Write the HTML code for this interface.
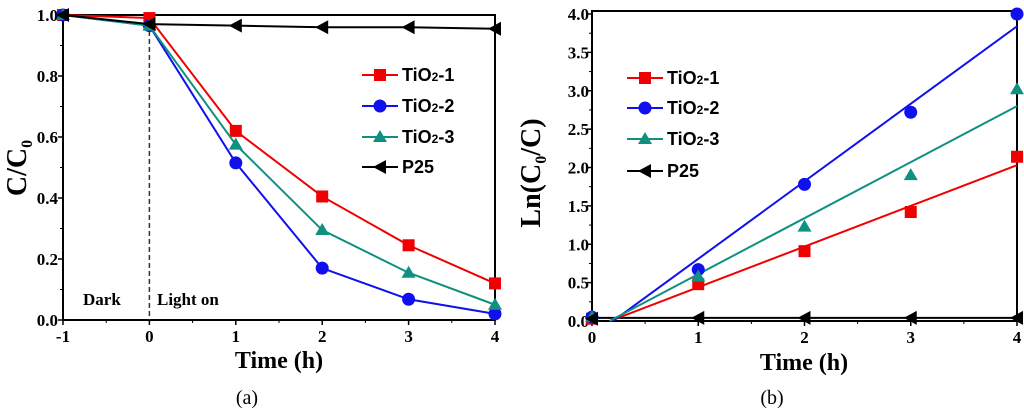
<!DOCTYPE html>
<html><head><meta charset="utf-8"><style>
html,body{margin:0;padding:0;background:#fff}
svg{display:block}
.tk{font-family:"Liberation Serif",serif;font-weight:bold;font-size:17px}
.tt{font-family:"Liberation Serif",serif;font-weight:bold;font-size:24px}
.yt{font-family:"Liberation Serif",serif;font-weight:bold;font-size:28px}
.lg{font-family:"Liberation Sans",sans-serif;font-weight:bold;font-size:18px}
.cap{font-family:"Liberation Serif",serif;font-size:20px}
</style></head><body>
<svg id="c" width="1024" height="412" viewBox="0 0 1024 412" xmlns="http://www.w3.org/2000/svg"></svg>
<script>
// Panel (a) data
const timesA = [-1, 0, 1, 2, 3, 4];
const tio1A = [1.0, 0.99, 0.62, 0.405, 0.245, 0.12];
const tio2A = [1.0, 0.965, 0.515, 0.17, 0.068, 0.02];
const tio3A = [1.0, 0.965, 0.575, 0.295, 0.155, 0.05];
const p25A = [1.0, 0.97, 0.965, 0.96, 0.96, 0.955];
const xTicksA = [-1, 0, 1, 2, 3, 4];
const yTicksA = [0.0, 0.2, 0.4, 0.6, 0.8, 1.0];
// Panel (b) data
const timesB = [0, 1, 2, 3, 4];
const tio1B = [0.03, 0.48, 0.91, 1.42, 2.14];
const tio2B = [0.05, 0.67, 1.78, 2.72, 4.0];
const tio3B = [0.05, 0.58, 1.23, 1.9, 3.02];
const p25B = [0.03, 0.04, 0.04, 0.04, 0.04];
const fitSlopes = [0.53, 1.01, 0.73];
const fitIntercepts = [-0.09, -0.20, -0.12];
const xTicksB = [0, 1, 2, 3, 4];
const yTicksB = [0.0, 0.5, 1.0, 1.5, 2.0, 2.5, 3.0, 3.5, 4.0];
const names = ["TiO2-1", "TiO2-2", "TiO2-3", "P25"];

const NS = "http://www.w3.org/2000/svg";
const svg = document.getElementById("c");
function mk(tag, attrs, parent, text) {
  const e = document.createElementNS(NS, tag);
  for (const k in attrs) e.setAttribute(k, attrs[k]);
  if (text !== undefined) e.textContent = text;
  (parent || svg).appendChild(e);
  return e;
}
const colors = ["#f00000", "#1010ee", "#109080", "#000"];

function marker(g, type, x, y, c) {
  let m;
  if (type === 0) m = mk("rect", {x: x - 6, y: y - 6, width: 12, height: 12, fill: c}, g);
  else if (type === 1) m = mk("circle", {cx: x, cy: y, r: 6.5, fill: c}, g);
  else if (type === 2) m = mk("polygon", {points: `${x},${y - 7} ${x - 7},${y + 5} ${x + 7},${y + 5}`, fill: c}, g);
  else m = mk("polygon", {points: `${x - 7},${y} ${x + 6},${y - 7} ${x + 6},${y + 7}`, fill: c}, g);
  
  
}

function legend(x0, ys, parent) {
  const g = mk("g", {}, parent);
  
  
  for (let i = 0; i < 4; i++) {
    const e = mk("g", {}, g);
    
    
    mk("line", {x1: x0, y1: ys[i], x2: x0 + 36, y2: ys[i], stroke: colors[i], "stroke-width": 2}, e);
    marker(e, i, x0 + 18, ys[i], colors[i]);
    const t = mk("text", {x: x0 + 40, y: ys[i] + 6, class: "lg"}, e);
    if (i < 3) {
      t.appendChild(document.createTextNode("TiO"));
      mk("tspan", {"font-size": "12px"}, t, "2");
      t.appendChild(document.createTextNode("-" + (i + 1)));
    } else t.textContent = "P25";
  }
}

// ---------- Panel A ----------
const A = {l: 63, r: 495, t: 15, b: 320, x0: -1, x1: 4, y0: 0, y1: 1};
const xA = v => A.l + (v - A.x0) / (A.x1 - A.x0) * (A.r - A.l);
const yA = v => A.b - (v - A.y0) / (A.y1 - A.y0) * (A.b - A.t);
const gA = mk("g", {});


mk("rect", {x: A.l, y: A.t, width: A.r - A.l, height: A.b - A.t, fill: "none", stroke: "#000", "stroke-width": 2}, gA);
xTicksA.forEach(v => {
  mk("line", {x1: xA(v), y1: A.b, x2: xA(v), y2: A.b + 5, stroke: "#000", "stroke-width": 1.5}, gA);
  if (v < 4) mk("line", {x1: xA(v + 0.5), y1: A.b, x2: xA(v + 0.5), y2: A.b + 3, stroke: "#000"}, gA);
  const t = mk("text", {x: xA(v), y: A.b + 22, class: "tk", "text-anchor": "middle"}, gA, String(v));
  
  
});
yTicksA.forEach(v => {
  mk("line", {x1: A.l - 5, y1: yA(v), x2: A.l, y2: yA(v), stroke: "#000", "stroke-width": 1.5}, gA);
  if (v < 1) mk("line", {x1: A.l - 3, y1: yA(v + 0.1), x2: A.l, y2: yA(v + 0.1), stroke: "#000"}, gA);
  const t = mk("text", {x: A.l - 5, y: yA(v) + 6, class: "tk", "text-anchor": "end"}, gA, v.toFixed(1));
  
  
});
mk("line", {x1: xA(0), y1: A.t, x2: xA(0), y2: A.b, stroke: "#333", "stroke-width": 1.5, "stroke-dasharray": "5,3"}, gA);
mk("text", {x: 83, y: 305, class: "tk"}, gA, "Dark");
mk("text", {x: 157, y: 305, class: "tk"}, gA, "Light on");
[tio1A, tio2A, tio3A, p25A].forEach((s, i) => {
  const g = mk("g", {}, gA);
  
  
  mk("polyline", {points: s.map((v, j) => xA(timesA[j]) + "," + yA(v)).join(" "), fill: "none", stroke: colors[i], "stroke-width": 2}, g);
  s.forEach((v, j) => marker(g, i, xA(timesA[j]), yA(v), colors[i]));
});
legend(362, [75, 106, 137, 167], gA);
const xtA = mk("text", {x: 279, y: 368, class: "tt", "text-anchor": "middle"}, gA, "Time (h)");


const ytA = mk("text", {x: 0, y: 0, class: "yt", "text-anchor": "middle", transform: "translate(26,168) rotate(-90)"}, gA, "C/C");


mk("tspan", {"font-size": "16px", dy: "6"}, ytA, "0");
mk("text", {x: 247, y: 404, class: "cap", "text-anchor": "middle"}, gA, "(a)");

// ---------- Panel B ----------
const B = {l: 592, r: 1017, t: 14, b: 321, x0: 0, x1: 4, y0: 0, y1: 4};
const xB = v => B.l + (v - B.x0) / (B.x1 - B.x0) * (B.r - B.l);
const yB = v => B.b - (v - B.y0) / (B.y1 - B.y0) * (B.b - B.t);
const gB = mk("g", {});


mk("rect", {x: B.l, y: 11, width: B.r - B.l, height: B.b - 11, fill: "none", stroke: "#000", "stroke-width": 2}, gB);
xTicksB.forEach(v => {
  mk("line", {x1: xB(v), y1: B.b, x2: xB(v), y2: B.b + 5, stroke: "#000", "stroke-width": 1.5}, gB);
  if (v < 4) mk("line", {x1: xB(v + 0.5), y1: B.b, x2: xB(v + 0.5), y2: B.b + 3, stroke: "#000"}, gB);
  const t = mk("text", {x: xB(v), y: B.b + 22, class: "tk", "text-anchor": "middle"}, gB, String(v));
  
  
});
yTicksB.forEach(v => {
  mk("line", {x1: B.l - 5, y1: yB(v), x2: B.l, y2: yB(v), stroke: "#000", "stroke-width": 1.5}, gB);
  if (v < 4) mk("line", {x1: B.l - 3, y1: yB(v + 0.25), x2: B.l, y2: yB(v + 0.25), stroke: "#000"}, gB);
  const t = mk("text", {x: B.l - 3, y: yB(v) + 6, class: "tk", "text-anchor": "end"}, gB, v.toFixed(1));
  
  
});
mk("line", {x1: B.l, y1: yB(0.04), x2: B.r, y2: yB(0.04), stroke: "#000", "stroke-width": 2}, gB);
[tio1B, tio2B, tio3B].forEach((s, i) => {
  const g = mk("g", {}, gB);
  
  
  const xs = -fitIntercepts[i] / fitSlopes[i];
  mk("line", {x1: xB(xs), y1: yB(0), x2: xB(4), y2: yB(fitSlopes[i] * 4 + fitIntercepts[i]), stroke: colors[i], "stroke-width": 2}, g);
});
[tio1B, tio2B, tio3B, p25B].forEach((s, i) => {
  const g = mk("g", {}, gB);
  
  
  s.forEach((v, j) => marker(g, i, xB(timesB[j]), yB(v), colors[i]));
});
legend(627, [78, 108, 139, 171], gB);
const xtB = mk("text", {x: 804, y: 370, class: "tt", "text-anchor": "middle"}, gB, "Time (h)");


const ytB = mk("text", {x: 0, y: 0, class: "yt", "text-anchor": "middle", transform: "translate(540,173) rotate(-90)"}, gB, "Ln(C");


mk("tspan", {"font-size": "16px", dy: "6"}, ytB, "0");
mk("tspan", {dy: "-6"}, ytB, "/C)");
mk("text", {x: 772, y: 404, class: "cap", "text-anchor": "middle"}, gB, "(b)");
</script>
</body></html>
